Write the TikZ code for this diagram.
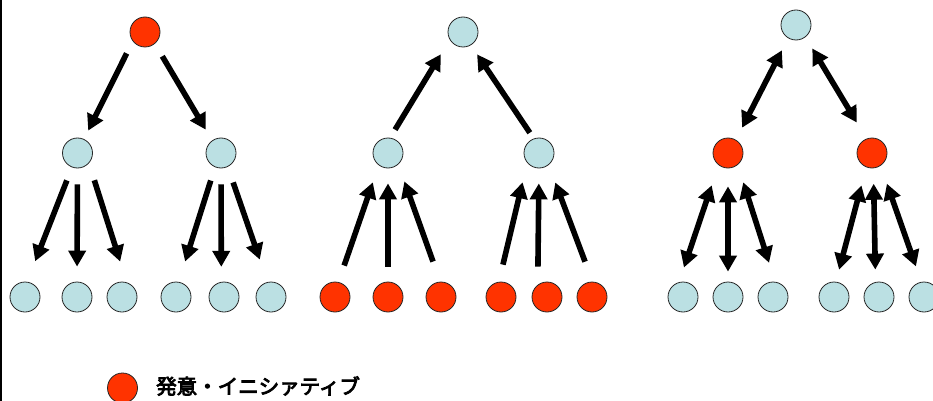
\documentclass[tikz,border=0pt]{standalone}
\usepackage{fontspec}
\newfontfamily\cjk[FakeBold=4]{Noto Sans CJK JP}
\usetikzlibrary{arrows.meta}
\definecolor{nblue}{RGB}{187,224,227}
\definecolor{nred}{RGB}{255,51,0}
\tikzset{
  bnode/.style={circle,minimum size=30pt,inner sep=0pt,draw=black!85,line width=0.8pt,fill=nblue},
  rnode/.style={bnode,fill=nred},
  arr/.style={line width=5.6pt,-{Triangle[length=16pt,width=17pt]}},
  darr/.style={line width=5.6pt,{Triangle[length=16pt,width=17pt]}-{Triangle[length=16pt,width=17pt]}},
}
\begin{document}
\begin{tikzpicture}[x=1pt,y=-1pt]
\useasboundingbox (0,0) rectangle (933,401);
\draw[line width=2pt] (1,0) -- (1,401);
% tree 1
\node[rnode] (a) at (145,32) {};
\node[bnode] (a1) at (77.5,153) {};
\node[bnode] (a2) at (221,153) {};
\node[bnode] (a11) at (25,297) {};
\node[bnode] (a12) at (77,297) {};
\node[bnode] (a13) at (122,297) {};
\node[bnode] (a21) at (176,297) {};
\node[bnode] (a22) at (224,297) {};
\node[bnode] (a23) at (271,297) {};
\draw[arr,shorten <=13.5pt,shorten >=9.4pt] (a.217) -- (a1.65);
\draw[arr,shorten <=14.5pt,shorten >=12.4pt] (a.310) -- (a2.125);
\draw[arr,shorten <=14pt,shorten >=22pt] (a1.249) -- (a11.82);
\draw[arr,shorten <=16pt,shorten >=15pt] (a1.270) -- (a12.90);
\draw[arr,shorten <=17.8pt,shorten >=21.8pt] (a1.318) -- (a13.72);
\draw[arr,shorten <=14pt,shorten >=21.3pt] (a2.247) -- (a21.80);
\draw[arr,shorten <=16pt,shorten >=15pt] (a2.270) -- (a22.100);
\draw[arr,shorten <=16.5pt,shorten >=23.7pt] (a2.296) -- (a23.103);
% tree 2
\node[bnode] (b) at (463,32) {};
\node[bnode] (b1) at (388,153) {};
\node[bnode] (b2) at (539,153) {};
\node[rnode] (b11) at (335,297) {};
\node[rnode] (b12) at (388,297) {};
\node[rnode] (b13) at (441,297) {};
\node[rnode] (b21) at (501,297) {};
\node[rnode] (b22) at (547,297) {};
\node[rnode] (b23) at (592,297) {};
\draw[arr,shorten <=9.5pt,shorten >=17pt] (b1.82) -- (b.210);
\draw[arr,shorten <=7pt,shorten >=11pt] (b2.110) -- (b.301);
\draw[arr,shorten <=17.4pt,shorten >=18pt] (b11.77) -- (b1.233);
\draw[arr,shorten <=15pt,shorten >=15pt] (b12.90) -- (b1.270);
\draw[arr,shorten <=21.3pt,shorten >=18pt] (b13.93) -- (b1.312);
\draw[arr,shorten <=17.6pt,shorten >=19.9pt] (b21.98) -- (b2.220);
\draw[arr,shorten <=18pt,shorten >=15pt] (b22.127) -- (b2.270);
\draw[arr,shorten <=21.3pt,shorten >=18.7pt] (b23.88) -- (b2.309);
% tree 3
\node[bnode] (c) at (796,25) {};
\node[rnode] (c1) at (728,153) {};
\node[rnode] (c2) at (872,153) {};
\node[bnode] (c11) at (683,297) {};
\node[bnode] (c12) at (728,297) {};
\node[bnode] (c13) at (773,297) {};
\node[bnode] (c21) at (834,297) {};
\node[bnode] (c22) at (879,297) {};
\node[bnode] (c23) at (924,297) {};
\draw[darr,shorten <=13.6pt,shorten >=13.6pt] (c.239) -- (c1.59);
\draw[darr,shorten <=13.2pt,shorten >=18.7pt] (c.308) -- (c2.111);
\draw[darr,shorten <=21.3pt,shorten >=15.4pt] (c1.232) -- (c11.105);
\draw[darr,shorten <=18pt,shorten >=10pt] (c1.270) -- (c12.90);
\draw[darr,shorten <=18.2pt,shorten >=19.9pt] (c1.309) -- (c13.82);
\draw[darr,shorten <=18.7pt,shorten >=12.5pt] (c2.248) -- (c21.83);
\draw[darr,shorten <=15.4pt,shorten >=12.4pt] (c2.275) -- (c22.103);
\draw[darr,shorten <=19pt,shorten >=16.3pt] (c2.304) -- (c23.100);
% legend
\node[rnode] (lg) at (122.5,388) {};
\node[anchor=west,inner sep=0pt,font=\cjk\fontsize{20.5}{20.5}\selectfont] (lgt) at (156,386) {発意・イニシァティブ};
\end{tikzpicture}
\end{document}
